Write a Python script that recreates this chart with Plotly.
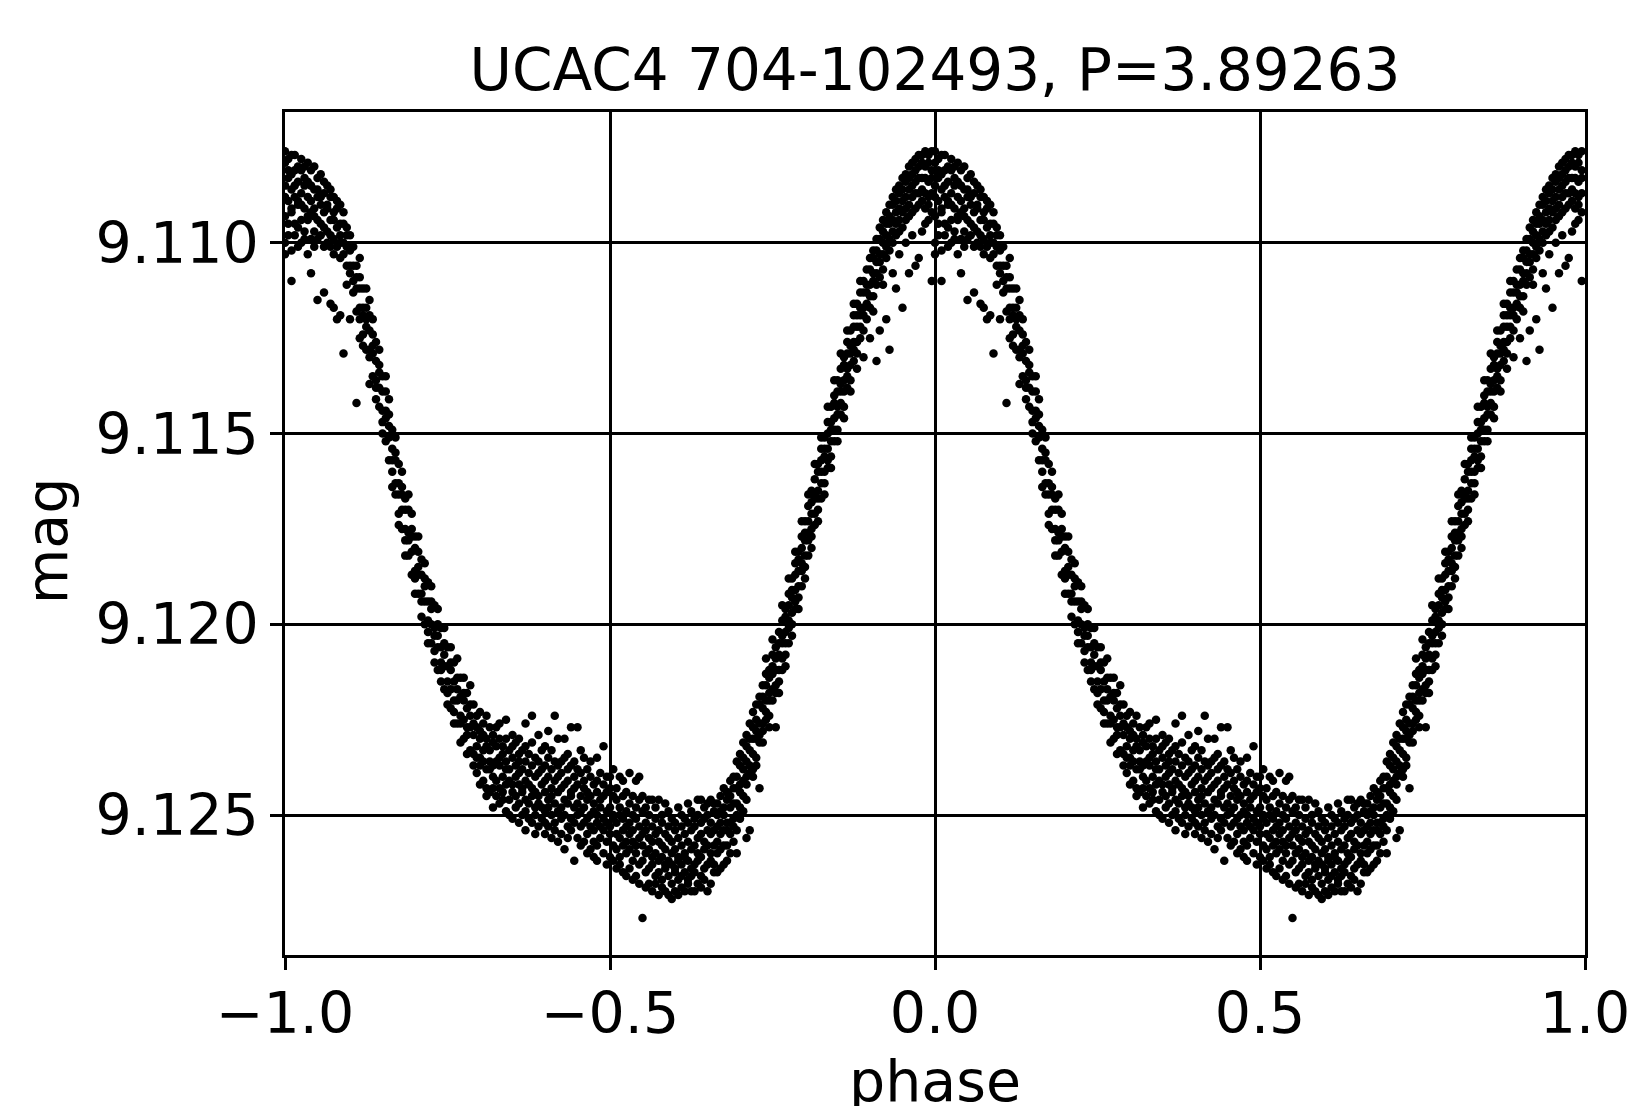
import plotly.graph_objects as go

# Phase-folded light curve of UCAC4 704-102493 (one cycle, phase 0..1),
# values; plotted at phase and at phase-1.
phase_bins = [
    0.000, 0.005, 0.010, 0.015, 0.020, 0.025, 0.030, 0.035, 0.040, 0.045,
    0.050, 0.055, 0.060, 0.065, 0.070, 0.075, 0.080, 0.085, 0.090, 0.095,
    0.100, 0.105, 0.110, 0.115, 0.120, 0.125, 0.130, 0.135, 0.140, 0.145,
    0.150, 0.155, 0.160, 0.165, 0.170, 0.175, 0.180, 0.185, 0.190, 0.195,
    0.200, 0.205, 0.210, 0.215, 0.220, 0.225, 0.230, 0.235, 0.240, 0.245,
    0.250, 0.255, 0.260, 0.265, 0.270, 0.275, 0.280, 0.285, 0.290, 0.295,
    0.300, 0.305, 0.310, 0.315, 0.320, 0.325, 0.330, 0.335, 0.340, 0.345,
    0.350, 0.355, 0.360, 0.365, 0.370, 0.375, 0.380, 0.385, 0.390, 0.395,
    0.400, 0.405, 0.410, 0.415, 0.420, 0.425, 0.430, 0.435, 0.440, 0.445,
    0.450, 0.455, 0.460, 0.465, 0.470, 0.475, 0.480, 0.485, 0.490, 0.495,
    0.500, 0.505, 0.510, 0.515, 0.520, 0.525, 0.530, 0.535, 0.540, 0.545,
    0.550, 0.555, 0.560, 0.565, 0.570, 0.575, 0.580, 0.585, 0.590, 0.595,
    0.600, 0.605, 0.610, 0.615, 0.620, 0.625, 0.630, 0.635, 0.640, 0.645,
    0.650, 0.655, 0.660, 0.665, 0.670, 0.675, 0.680, 0.685, 0.690, 0.695,
    0.700, 0.705, 0.710, 0.715, 0.720, 0.725, 0.730, 0.735, 0.740, 0.745,
    0.750, 0.755, 0.760, 0.765, 0.770, 0.775, 0.780, 0.785, 0.790, 0.795,
    0.800, 0.805, 0.810, 0.815, 0.820, 0.825, 0.830, 0.835, 0.840, 0.845,
    0.850, 0.855, 0.860, 0.865, 0.870, 0.875, 0.880, 0.885, 0.890, 0.895,
    0.900, 0.905, 0.910, 0.915, 0.920, 0.925, 0.930, 0.935, 0.940, 0.945,
    0.950, 0.955, 0.960, 0.965, 0.970, 0.975, 0.980, 0.985, 0.990, 0.995,
]

mag_rows = [
    [9.1076, 9.1079, 9.1085, 9.1088, 9.1093, 9.1100, 9.1103],
    [9.1078, 9.1081, 9.1083, 9.1089, 9.1095, 9.1098],
    [9.1077, 9.1082, 9.1086, 9.1091, 9.1092, 9.1102, 9.1110],
    [9.1077, 9.1081, 9.1085, 9.1088, 9.1095, 9.1098],
    [9.1080, 9.1084, 9.1089, 9.1090, 9.1096, 9.1101],
    [9.1078, 9.1081, 9.1087, 9.1090, 9.1094, 9.1100],
    [9.1080, 9.1083, 9.1085, 9.1091, 9.1097, 9.1099],
    [9.1079, 9.1084, 9.1088, 9.1093, 9.1094, 9.1103],
    [9.1081, 9.1085, 9.1089, 9.1092, 9.1099, 9.1108],
    [9.1080, 9.1086, 9.1091, 9.1093, 9.1097, 9.1101],
    [9.1083, 9.1086, 9.1088, 9.1094, 9.1099, 9.1115],
    [9.1082, 9.1088, 9.1090, 9.1095, 9.1098],
    [9.1084, 9.1087, 9.1092, 9.1096, 9.1101, 9.1113],
    [9.1085, 9.1090, 9.1091, 9.1097, 9.1100],
    [9.1086, 9.1088, 9.1094, 9.1098, 9.1101, 9.1116],
    [9.1088, 9.1092, 9.1094, 9.1099, 9.1103, 9.1117],
    [9.1089, 9.1091, 9.1096, 9.1101, 9.1120],
    [9.1090, 9.1095, 9.1098, 9.1100, 9.1104, 9.1119],
    [9.1092, 9.1095, 9.1100, 9.1103, 9.1129],
    [9.1096, 9.1098, 9.1101, 9.1106, 9.1111],
    [9.1098, 9.1102, 9.1106, 9.1108, 9.1120],
    [9.1101, 9.1106, 9.1110, 9.1113],
    [9.1106, 9.1109, 9.1112, 9.1118, 9.1142],
    [9.1104, 9.1109, 9.1112, 9.1117, 9.1120, 9.1125],
    [9.1112, 9.1117, 9.1119, 9.1124, 9.1127],
    [9.1112, 9.1117, 9.1120, 9.1122, 9.1128],
    [9.1115, 9.1119, 9.1123, 9.1128, 9.1130, 9.1137],
    [9.1120, 9.1124, 9.1127, 9.1129, 9.1135],
    [9.1126, 9.1131, 9.1136, 9.1138, 9.1141],
    [9.1128, 9.1132, 9.1134, 9.1138, 9.1143],
    [9.1135, 9.1139, 9.1144, 9.1147, 9.1150],
    [9.1135, 9.1139, 9.1144, 9.1146, 9.1152],
    [9.1141, 9.1145, 9.1148, 9.1151, 9.1157],
    [9.1149, 9.1154, 9.1157, 9.1160, 9.1164],
    [9.1151, 9.1155, 9.1157, 9.1163, 9.1166],
    [9.1158, 9.1163, 9.1166, 9.1171, 9.1174],
    [9.1160, 9.1164, 9.1166, 9.1170, 9.1175],
    [9.1167, 9.1170, 9.1175, 9.1178, 9.1182],
    [9.1166, 9.1170, 9.1176, 9.1178, 9.1182],
    [9.1171, 9.1175, 9.1177, 9.1181, 9.1187],
    [9.1177, 9.1180, 9.1186, 9.1188, 9.1192],
    [9.1177, 9.1181, 9.1185, 9.1187, 9.1192],
    [9.1183, 9.1187, 9.1192, 9.1194, 9.1198],
    [9.1184, 9.1188, 9.1190, 9.1194, 9.1200],
    [9.1189, 9.1194, 9.1199, 9.1202, 9.1205],
    [9.1190, 9.1194, 9.1196, 9.1200, 9.1205],
    [9.1195, 9.1201, 9.1203, 9.1207, 9.1210],
    [9.1196, 9.1200, 9.1203, 9.1206, 9.1212],
    [9.1201, 9.1206, 9.1210, 9.1212, 9.1215],
    [9.1201, 9.1205, 9.1208, 9.1211, 9.1217],
    [9.1206, 9.1211, 9.1215, 9.1218, 9.1221],
    [9.1206, 9.1210, 9.1212, 9.1217, 9.1222],
    [9.1210, 9.1215, 9.1220, 9.1223, 9.1226],
    [9.1209, 9.1214, 9.1217, 9.1220, 9.1226],
    [9.1214, 9.1219, 9.1224, 9.1226, 9.1231],
    [9.1214, 9.1218, 9.1220, 9.1225, 9.1230],
    [9.1218, 9.1222, 9.1227, 9.1229, 9.1234],
    [9.1216, 9.1221, 9.1224, 9.1227, 9.1233],
    [9.1221, 9.1226, 9.1229, 9.1234, 9.1237],
    [9.1224, 9.1227, 9.1232, 9.1235, 9.1239],
    [9.1223, 9.1228, 9.1230, 9.1235, 9.1237, 9.1242],
    [9.1226, 9.1229, 9.1233, 9.1236, 9.1241],
    [9.1224, 9.1230, 9.1232, 9.1238, 9.1243, 9.1245],
    [9.1227, 9.1233, 9.1236, 9.1238, 9.1244],
    [9.1229, 9.1231, 9.1237, 9.1240, 9.1243, 9.1248],
    [9.1227, 9.1232, 9.1236, 9.1241, 9.1245],
    [9.1226, 9.1230, 9.1235, 9.1237, 9.1243, 9.1247],
    [9.1232, 9.1234, 9.1240, 9.1244, 9.1246],
    [9.1225, 9.1230, 9.1236, 9.1238, 9.1242, 9.1249],
    [9.1233, 9.1238, 9.1241, 9.1246, 9.1250],
    [9.1229, 9.1232, 9.1235, 9.1242, 9.1244, 9.1251],
    [9.1231, 9.1237, 9.1240, 9.1245, 9.1248],
    [9.1230, 9.1234, 9.1236, 9.1239, 9.1242, 9.1247, 9.1252],
    [9.1233, 9.1238, 9.1243, 9.1244, 9.1250],
    [9.1226, 9.1232, 9.1236, 9.1241, 9.1246, 9.1249, 9.1254],
    [9.1234, 9.1239, 9.1242, 9.1247, 9.1251],
    [9.1224, 9.1231, 9.1237, 9.1243, 9.1245, 9.1252],
    [9.1235, 9.1240, 9.1244, 9.1248, 9.1250, 9.1255],
    [9.1229, 9.1236, 9.1239, 9.1245, 9.1247, 9.1253],
    [9.1233, 9.1238, 9.1242, 9.1248, 9.1251],
    [9.1232, 9.1237, 9.1241, 9.1244, 9.1249, 9.1252, 9.1255],
    [9.1228, 9.1235, 9.1240, 9.1246, 9.1248, 9.1253],
    [9.1233, 9.1238, 9.1243, 9.1245, 9.1250, 9.1256],
    [9.1224, 9.1236, 9.1241, 9.1247, 9.1252, 9.1254],
    [9.1230, 9.1237, 9.1240, 9.1244, 9.1249, 9.1257],
    [9.1236, 9.1239, 9.1243, 9.1248, 9.1251, 9.1255],
    [9.1230, 9.1235, 9.1242, 9.1246, 9.1250, 9.1259],
    [9.1234, 9.1238, 9.1241, 9.1247, 9.1253, 9.1256],
    [9.1227, 9.1237, 9.1244, 9.1245, 9.1251, 9.1254],
    [9.1236, 9.1240, 9.1243, 9.1248, 9.1252, 9.1262],
    [9.1227, 9.1238, 9.1242, 9.1247, 9.1250, 9.1256],
    [9.1233, 9.1239, 9.1245, 9.1249, 9.1253, 9.1258],
    [9.1235, 9.1241, 9.1243, 9.1248, 9.1252, 9.1257],
    [9.1238, 9.1244, 9.1246, 9.1251, 9.1255, 9.1260],
    [9.1236, 9.1240, 9.1245, 9.1250, 9.1253, 9.1259],
    [9.1242, 9.1247, 9.1249, 9.1254, 9.1257, 9.1261],
    [9.1235, 9.1241, 9.1244, 9.1250, 9.1252, 9.1258, 9.1262],
    [9.1239, 9.1246, 9.1248, 9.1253, 9.1256],
    [9.1232, 9.1242, 9.1245, 9.1251, 9.1254, 9.1260],
    [9.1240, 9.1244, 9.1249, 9.1252, 9.1257, 9.1263],
    [9.1240, 9.1243, 9.1248, 9.1253, 9.1255, 9.1261],
    [9.1238, 9.1245, 9.1250, 9.1251, 9.1258, 9.1262],
    [9.1243, 9.1246, 9.1252, 9.1255, 9.1259, 9.1264],
    [9.1240, 9.1248, 9.1250, 9.1256, 9.1261, 9.1263],
    [9.1241, 9.1245, 9.1251, 9.1254, 9.1258, 9.1265],
    [9.1244, 9.1249, 9.1253, 9.1257, 9.1260, 9.1266],
    [9.1239, 9.1247, 9.1252, 9.1255, 9.1259, 9.1264],
    [9.1245, 9.1250, 9.1254, 9.1257, 9.1262, 9.1267],
    [9.1241, 9.1248, 9.1251, 9.1258, 9.1260, 9.1266],
    [9.1240, 9.1246, 9.1253, 9.1256, 9.1263, 9.1268],
    [9.1245, 9.1249, 9.1255, 9.1258, 9.1262, 9.1277],
    [9.1248, 9.1252, 9.1254, 9.1260, 9.1265, 9.1269],
    [9.1246, 9.1250, 9.1256, 9.1259, 9.1264, 9.1268],
    [9.1246, 9.1253, 9.1257, 9.1261, 9.1263, 9.1270],
    [9.1248, 9.1251, 9.1255, 9.1260, 9.1266, 9.1268],
    [9.1246, 9.1254, 9.1257, 9.1262, 9.1265, 9.1271],
    [9.1250, 9.1252, 9.1258, 9.1261, 9.1267, 9.1269],
    [9.1247, 9.1255, 9.1259, 9.1263, 9.1264, 9.1270],
    [9.1249, 9.1253, 9.1256, 9.1262, 9.1266, 9.1271],
    [9.1251, 9.1257, 9.1260, 9.1263, 9.1268, 9.1272],
    [9.1252, 9.1254, 9.1259, 9.1264, 9.1265, 9.1270],
    [9.1248, 9.1256, 9.1261, 9.1262, 9.1267, 9.1271],
    [9.1250, 9.1253, 9.1258, 9.1263, 9.1266, 9.1269],
    [9.1251, 9.1255, 9.1260, 9.1261, 9.1265, 9.1270],
    [9.1247, 9.1252, 9.1257, 9.1262, 9.1267, 9.1268],
    [9.1249, 9.1254, 9.1259, 9.1264, 9.1266, 9.1270],
    [9.1251, 9.1253, 9.1258, 9.1263, 9.1265, 9.1270],
    [9.1246, 9.1250, 9.1256, 9.1260, 9.1262, 9.1268],
    [9.1246, 9.1252, 9.1255, 9.1261, 9.1266, 9.1269],
    [9.1248, 9.1251, 9.1257, 9.1259, 9.1264, 9.1267],
    [9.1247, 9.1250, 9.1254, 9.1258, 9.1263, 9.1270],
    [9.1246, 9.1252, 9.1255, 9.1260, 9.1262, 9.1268],
    [9.1247, 9.1249, 9.1254, 9.1258, 9.1263, 9.1265],
    [9.1247, 9.1250, 9.1253, 9.1257, 9.1260, 9.1265],
    [9.1245, 9.1249, 9.1252, 9.1255, 9.1259, 9.1264],
    [9.1243, 9.1248, 9.1250, 9.1254, 9.1258, 9.1263],
    [9.1244, 9.1246, 9.1252, 9.1254, 9.1258, 9.1262],
    [9.1241, 9.1245, 9.1248, 9.1252, 9.1255, 9.1260],
    [9.1240, 9.1243, 9.1247, 9.1251, 9.1253, 9.1257],
    [9.1236, 9.1240, 9.1243, 9.1247, 9.1250, 9.1254, 9.1260],
    [9.1234, 9.1237, 9.1242, 9.1244, 9.1248, 9.1251],
    [9.1231, 9.1235, 9.1238, 9.1241, 9.1245, 9.1249],
    [9.1229, 9.1232, 9.1236, 9.1240, 9.1242, 9.1246, 9.1256],
    [9.1226, 9.1230, 9.1233, 9.1237, 9.1239, 9.1254],
    [9.1223, 9.1227, 9.1230, 9.1234, 9.1238, 9.1240],
    [9.1221, 9.1225, 9.1228, 9.1230, 9.1235, 9.1237],
    [9.1219, 9.1221, 9.1226, 9.1229, 9.1231, 9.1243],
    [9.1216, 9.1219, 9.1222, 9.1226, 9.1228, 9.1231],
    [9.1209, 9.1213, 9.1216, 9.1220, 9.1223, 9.1225],
    [9.1212, 9.1214, 9.1218, 9.1220, 9.1224, 9.1227],
    [9.1204, 9.1208, 9.1211, 9.1213, 9.1217, 9.1220],
    [9.1206, 9.1209, 9.1212, 9.1216, 9.1218, 9.1227],
    [9.1202, 9.1205, 9.1208, 9.1212, 9.1215, 9.1218],
    [9.1195, 9.1199, 9.1203, 9.1205, 9.1209, 9.1212],
    [9.1196, 9.1198, 9.1202, 9.1205, 9.1208, 9.1211],
    [9.1188, 9.1192, 9.1195, 9.1199, 9.1201, 9.1205],
    [9.1188, 9.1191, 9.1193, 9.1197, 9.1200, 9.1203],
    [9.1181, 9.1184, 9.1187, 9.1191, 9.1194, 9.1196],
    [9.1181, 9.1183, 9.1186, 9.1190, 9.1193, 9.1196],
    [9.1173, 9.1177, 9.1180, 9.1184, 9.1186, 9.1190],
    [9.1173, 9.1176, 9.1178, 9.1182, 9.1185, 9.1188],
    [9.1166, 9.1169, 9.1173, 9.1176, 9.1178, 9.1182],
    [9.1165, 9.1168, 9.1171, 9.1175, 9.1177, 9.1180],
    [9.1158, 9.1162, 9.1166, 9.1167, 9.1171, 9.1174],
    [9.1158, 9.1160, 9.1165, 9.1167, 9.1170, 9.1173],
    [9.1151, 9.1154, 9.1157, 9.1160, 9.1163, 9.1167],
    [9.1151, 9.1154, 9.1156, 9.1160, 9.1163, 9.1166],
    [9.1143, 9.1147, 9.1150, 9.1154, 9.1157, 9.1159],
    [9.1143, 9.1147, 9.1149, 9.1152, 9.1156, 9.1159],
    [9.1136, 9.1140, 9.1142, 9.1146, 9.1149, 9.1152],
    [9.1136, 9.1139, 9.1143, 9.1145, 9.1149, 9.1152],
    [9.1129, 9.1133, 9.1137, 9.1139, 9.1142, 9.1145],
    [9.1130, 9.1132, 9.1136, 9.1139, 9.1143, 9.1146],
    [9.1123, 9.1126, 9.1129, 9.1133, 9.1135, 9.1138],
    [9.1123, 9.1127, 9.1129, 9.1132, 9.1136, 9.1139],
    [9.1116, 9.1119, 9.1122, 9.1126, 9.1128, 9.1131],
    [9.1116, 9.1119, 9.1122, 9.1126, 9.1129, 9.1133],
    [9.1110, 9.1113, 9.1117, 9.1119, 9.1122, 9.1125],
    [9.1110, 9.1113, 9.1117, 9.1119, 9.1123, 9.1130],
    [9.1107, 9.1111, 9.1113, 9.1116, 9.1120],
    [9.1104, 9.1107, 9.1111, 9.1114, 9.1117, 9.1125],
    [9.1102, 9.1104, 9.1108, 9.1110, 9.1114, 9.1118],
    [9.1099, 9.1102, 9.1105, 9.1108, 9.1111, 9.1131],
    [9.1096, 9.1099, 9.1103, 9.1105, 9.1109, 9.1123],
    [9.1094, 9.1097, 9.1100, 9.1103, 9.1107, 9.1111],
    [9.1092, 9.1095, 9.1098, 9.1101, 9.1104, 9.1120],
    [9.1090, 9.1093, 9.1095, 9.1099, 9.1102, 9.1128],
    [9.1088, 9.1090, 9.1094, 9.1097, 9.1100, 9.1108],
    [9.1086, 9.1089, 9.1092, 9.1095, 9.1098, 9.1112],
    [9.1085, 9.1087, 9.1091, 9.1094, 9.1097, 9.1103],
    [9.1083, 9.1086, 9.1089, 9.1092, 9.1096, 9.1117],
    [9.1082, 9.1084, 9.1088, 9.1091, 9.1094, 9.1100],
    [9.1080, 9.1083, 9.1086, 9.1090, 9.1093, 9.1108],
    [9.1079, 9.1082, 9.1085, 9.1088, 9.1092, 9.1098],
    [9.1078, 9.1081, 9.1084, 9.1087, 9.1091, 9.1106],
    [9.1077, 9.1080, 9.1083, 9.1087, 9.1090, 9.1104],
    [9.1077, 9.1079, 9.1083, 9.1086, 9.1089, 9.1097],
    [9.1076, 9.1080, 9.1083, 9.1087, 9.1091, 9.1095],
    [9.1077, 9.1079, 9.1084, 9.1088, 9.1090, 9.1094],
    [9.1076, 9.1081, 9.1083, 9.1087, 9.1092, 9.1110],
]

x_ticks = [-1.0, -0.5, 0.0, 0.5, 1.0]
x_tick_text = ["\u22121.0", "\u22120.5", "0.0", "0.5", "1.0"]
y_ticks = [9.110, 9.115, 9.120, 9.125]
y_tick_text = ["9.110", "9.115", "9.120", "9.125"]
y_range = [9.12867, 9.10657]  # magnitude axis, inverted
title_text = "UCAC4 704-102493, P=3.89263"

xs, ys = [], []
for shift in (0.0, -1.0):
    for ph, row in zip(phase_bins, mag_rows):
        for m in row:
            xs.append(ph + shift)
            ys.append(m)

FONT = "DejaVu Sans"
FS = 57

fig = go.Figure()
fig.add_trace(go.Scatter(
    x=xs, y=ys, mode="markers",
    marker=dict(color="black", size=8.5, line=dict(width=0)),
    hoverinfo="skip", showlegend=False,
))

axis_common = dict(
    showgrid=True, gridcolor="black", gridwidth=2.5,
    showline=True, linecolor="black", linewidth=2.8, mirror=True,
    ticks="outside", ticklen=12, tickwidth=2.5, tickcolor="black",
    zeroline=False, automargin=False,
    tickfont=dict(family=FONT, size=FS, color="black"),
)

fig.update_layout(
    width=1636, height=1106,
    margin=dict(l=285, r=51, t=112, b=151, pad=0),
    paper_bgcolor="white", plot_bgcolor="white",
    font=dict(family=FONT, size=FS, color="black"),
    title=dict(text=title_text, x=0.5, xanchor="center", xref="paper",
               y=1 - 70 / 1106, yref="container", yanchor="middle",
               automargin=False,
               font=dict(family=FONT, size=58, color="black")),
    xaxis=dict(range=[-1, 1], tickmode="array", tickvals=x_ticks,
               ticktext=x_tick_text, ticklabelstandoff=-5, **axis_common),
    yaxis=dict(range=y_range, tickmode="array", tickvals=y_ticks,
               ticktext=y_tick_text, **axis_common),
    annotations=[
        dict(text="phase", xref="paper", yref="paper", x=0.5, y=-0.108,
             xanchor="center", yanchor="top", showarrow=False,
             font=dict(family=FONT, size=FS, color="black")),
        dict(text="mag", xref="paper", yref="paper", x=-0.1776, y=0.491,
             xshift=-7, xanchor="center", yanchor="middle", textangle=-90,
             showarrow=False,
             font=dict(family=FONT, size=FS, color="black")),
    ],
)

fig.write_html("out.html",
               config={"displayModeBar": False},
               post_script="document.body.style.margin='0';"
                           "document.body.style.overflow='hidden';")
